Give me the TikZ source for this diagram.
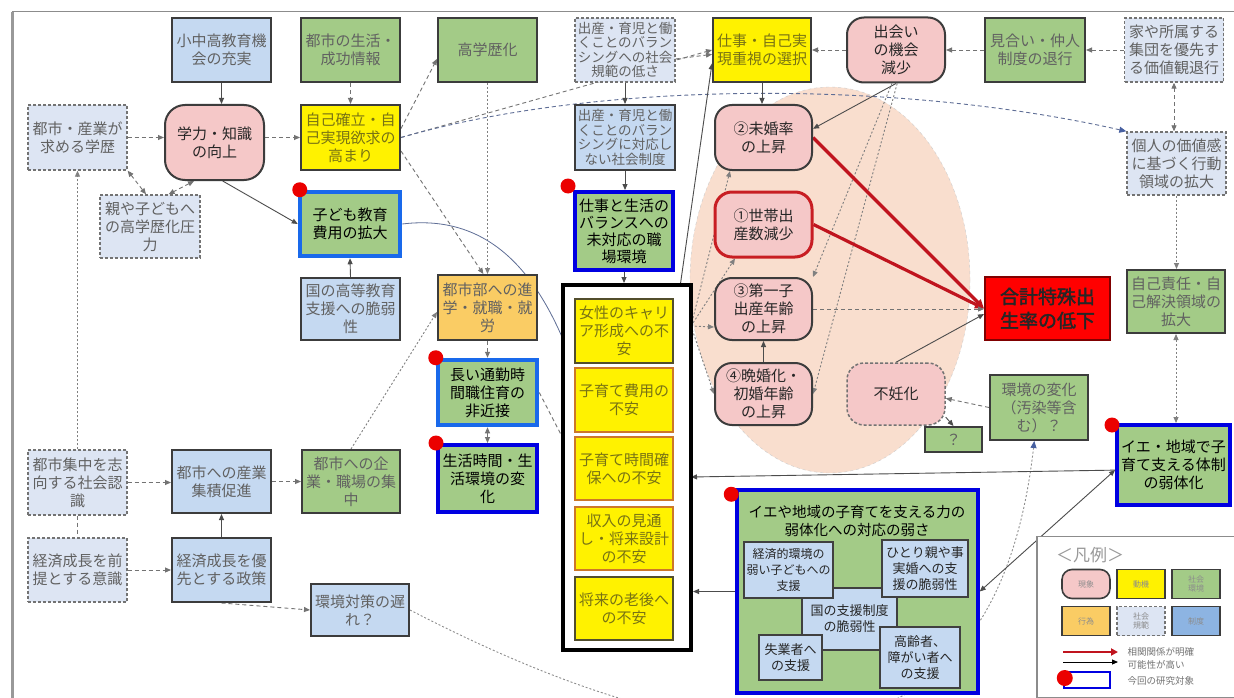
\documentclass[tikz,border=0pt]{standalone}
\usepackage{fontspec}
\usetikzlibrary{arrows.meta,calc}
\newfontfamily\jp{Noto Sans CJK JP}
\newfontfamily\jpbold[FakeBold=2]{Noto Sans CJK JP}
\definecolor{cBlue}{RGB}{197,217,241}
\definecolor{cGreen}{RGB}{163,203,135}
\definecolor{cPink}{RGB}{245,200,200}
\definecolor{cOrange}{RGB}{250,204,100}
\definecolor{cNorm}{RGB}{221,229,243}
\definecolor{cEll}{RGB}{249,222,206}
\definecolor{cRedL}{RGB}{192,20,30}
\definecolor{cRedB}{RGB}{200,30,35}
\definecolor{cTgt}{RGB}{0,0,225}
\definecolor{cTgtL}{RGB}{25,105,235}
\definecolor{cEdge}{RGB}{60,60,60}
\definecolor{cInst}{RGB}{141,180,226}
\definecolor{cOliveT}{RGB}{120,115,20}
\definecolor{cOrgB}{RGB}{205,120,40}
\definecolor{cArrB}{RGB}{70,95,160}
\definecolor{cCurve}{RGB}{95,110,150}
\pgfdeclarelayer{bg}
\pgfsetlayers{bg,main}
\begin{document}
\begin{tikzpicture}[x=1pt,y=-1pt,
  >={Triangle[length=6pt,width=5pt]},
  box/.style={draw=cEdge, line width=2pt, align=center, inner sep=0pt, text=black!62,
    font=\jp\fontsize{15}{18}\selectfont},
  sz/.style 2 args={minimum width=#1pt, minimum height=#2pt},
  blu/.style={box, fill=cBlue},
  grn/.style={box, fill=cGreen},
  yel/.style={box, fill=yellow, text=cOliveT},
  org/.style={box, fill=cOrange},
  pnk/.style={box, fill=cPink, rounded corners=17pt, text=black!85},
  nrm/.style={box, fill=cNorm, draw=black!55, line width=1.4pt, dash pattern=on 3pt off 2pt},
  tgt/.style={draw=cTgt, line width=4pt, text=black},
  tgtl/.style={draw=cTgtL, line width=4.5pt, text=black},
  sevenc/.style={font=\jp\fontsize{13.5}{14.5}\selectfont},
  inb/.style={box, fill=cBlue, draw=black!75, line width=1.8pt, text=black!85,
    font=\jp\fontsize{13}{16}\selectfont},
  lgbox/.style={sz={48}{29}, line width=1.6pt, font=\jp\fontsize{8}{9.5}\selectfont, text=black!45},
  lgtext/.style={anchor=west, font=\jp\fontsize{9.5}{10}\selectfont, text=black!55},
  con/.style={->, line width=0.9pt, draw=black!70},
  dshln/.style={con, draw=black!55, dash pattern=on 4pt off 3pt},
  dotln/.style={con, draw=black!50, dash pattern=on 2pt off 2pt},
  dbl/.style={<->},
  redl/.style={line width=3.2pt, draw=cRedL, -{Triangle[length=9pt,width=8pt]}},
  bluet/.style={-{Triangle[length=7pt,width=6pt,color=cArrB]}},
  rdot/.style={fill=red!92!black},
]
\useasboundingbox (0,0) rectangle (1234,698);
\begin{pgfonlayer}{bg}
\fill[white] (0,0) rectangle (1234,698);
\end{pgfonlayer}
% frame of the sheet
\draw[black!45, line width=1pt] (12,12) -- (1234,12);
\draw[black!40, line width=3pt] (12,12) -- (12,698);

% ---------- top row ----------
\node[blu, sz={99}{64}] (kyouiku) at (221.5,50) {小中高教育機\\会の充実};
\node[grn, sz={99}{64}] (toshiseikatsu) at (350.5,50) {都市の生活・\\成功情報};
\node[grn, sz={99}{64}] (kougakureki) at (487.5,50) {高学歴化};
\node[nrm, sevenc, sz={100}{64}] (kihan) at (625,50) {出産・育児と働\\くことのバラン\\シングへの社会\\規範の低さ};
\node[yel, sz={98}{64}] (shigoto) at (762,50) {仕事・自己実\\現重視の選択};
\node[pnk, sz={98}{65}] (deai) at (896,50) {出会い\\の機会\\減少};
\node[grn, sz={100}{64}] (miai) at (1035,50) {見合い・仲人\\制度の退行};
\node[nrm, sz={99}{64}] (ie) at (1174,50) {家や所属する\\集団を優先す\\る価値観退行};

% ---------- second row ----------
\node[nrm, sz={99}{65}] (toshigakureki) at (77.5,137.5) {都市・産業が\\求める学歴};
\node[pnk, sz={99}{75}, rounded corners=20pt] (gakuryoku) at (214.5,142.5) {学力・知識\\の向上};
\node[yel, sz={99}{65}] (jiko) at (350.5,137.5) {自己確立・自\\己実現欲求の\\高まり};
\node[blu, sevenc, sz={100}{65}] (seido) at (625,137.5) {出産・育児と働\\くことのバラン\\シングに対応し\\ない社会制度};
\node[pnk, sz={97}{65}] (mikon) at (763.5,137.5) {②未婚率\\の上昇};
\node[nrm, sz={99}{63}] (kojin) at (1176.5,163.5) {個人の価値感\\に基づく行動\\領域の拡大};

% ---------- third row ----------
\node[nrm, sz={100}{63}] (oyako) at (150,226.5) {親や子どもへ\\の高学歴化圧\\力};
\node[grn, tgtl, sz={100}{64}] (kyouikuhi) at (350,224) {子ども教育\\費用の拡大};
\node[grn, tgt, sz={98}{78}, font=\jp\fontsize{15}{17}\selectfont] (wlb) at (624,231) {仕事と生活の\\バランスへの\\未対応の職\\場環境};
\node[pnk, draw=cRedB, line width=3pt, sz={97}{65}] (setai) at (763.5,224.5) {①世帯出\\産数減少};

% ---------- middle ----------
\node[blu, sz={99}{62}] (kunikoutou) at (350.5,309) {国の高等教育\\支援への脆弱\\性};
\node[org, sz={99}{65}] (toshibu) at (487.5,307.5) {都市部への進\\学・就職・就\\労};

% anxieties grouped in one frame
\node[draw=black, line width=4pt, fill=white, sz={128}{365}] (blackbox) at (627,467.5) {};
\node[yel, draw=black!55!olive, sz={98}{64}] (josei) at (624,331) {女性のキャリ\\ア形成への不\\安};
\node[yel, draw=cOrgB, sz={98}{64}] (hiyou) at (624,400) {子育て費用の\\不安};
\node[yel, draw=cOrgB, sz={98}{63}] (jikan) at (624,468.5) {子育て時間確\\保への不安};
\node[yel, draw=cOrgB, sz={98}{63}] (shuunyuu) at (624,538.5) {収入の見通\\し・将来設計\\の不安};
\node[yel, draw=black!55!olive, sz={98}{63}] (rougo) at (624,608.5) {将来の老後へ\\の不安};

\node[pnk, sz={97}{62}] (daiichi) at (763.5,309) {③第一子\\出産年齢\\の上昇};
\node[pnk, sz={97}{62}] (bankon) at (763.5,394) {④晩婚化・\\初婚年齢\\の上昇};
\node[box, fill=red, draw=black!50!red, line width=2pt, sz={125}{63}, text=black!85,
      font=\jpbold\fontsize{19}{24}\selectfont] (goukei) at (1047.5,308.5) {合計特殊出\\生率の低下};
\node[grn, sz={98}{63}] (jikosekinin) at (1176,301.5) {自己責任・自\\己解決領域の\\拡大};
\node[pnk, draw=black!55, line width=1.5pt, dash pattern=on 3pt off 2pt, sz={98}{62}] (funin) at (896,394) {不妊化};
\node[grn, sz={98}{65}] (kankyou) at (1039,407.5) {環境の変化\\（汚染等含\\む）？};
\node[grn, sz={57}{25}] (question) at (953.5,439.5) {？};
\node[grn, tgt, sz={113}{80}] (iechiiki) at (1173.5,465) {イエ・地域で子\\育て支える体制\\の弱体化};

% ---------- lower left ----------
\node[grn, tgtl, sz={99}{65}] (tsuukin) at (487.5,392.5) {長い通勤時\\間職住育の\\非近接};
\node[grn, tgt, sz={99}{67}] (seikatsujikan) at (487.5,478.5) {生活時間・生\\活環境の変\\化};
\node[nrm, sz={99}{65}] (toshishuuchuu) at (77.5,482.5) {都市集中を志\\向する社会認\\識};
\node[blu, sz={99}{63}] (sangyou) at (221.5,481.5) {都市への産業\\集積促進};
\node[grn, sz={98}{63}] (kigyou) at (351,481.5) {都市への企\\業・職場の集\\中};
\node[nrm, sz={99}{64}] (keizaizentei) at (77.5,570) {経済成長を前\\提とする意識};
\node[blu, sz={99}{64}] (keizaiyuusen) at (221.5,570) {経済成長を優\\先とする政策};
\node[blu, sz={98}{52}] (kankyoutaisaku) at (360,610) {環境対策の遅\\れ？};

% ---------- support systems ----------
\node[fill=cGreen, draw=cTgt, line width=3.5pt, sz={241}{203}] (support) at (857.5,591.5) {};
\node[align=center, text=black, font=\jp\fontsize{14.5}{18}\selectfont] (suptitle) at (857,521) {イエや地域の子育てを支える力の\\弱体化への対応の弱さ};
\node[inb, sz={95}{62}] (kuni) at (849.5,619) {国の支援制度\\の脆弱性};
\node[inb, sz={89}{56}, font=\jp\fontsize{12}{16}\selectfont] (keizaiteki) at (788.5,570) {経済的環境の\\弱い子どもへの\\支援};
\node[inb, sz={86}{57}] (hitorioya) at (925,568.5) {ひとり親や事\\実婚への支\\援の脆弱性};
\node[inb, sz={63}{45}] (shitsugyou) at (790.5,657.5) {失業者へ\\の支援};
\node[inb, sz={80}{61}] (koureisha) at (920,657.5) {高齢者、\\障がい者へ\\の支援};

% ---------- legend ----------
\node[draw=black!45, line width=1.5pt, fill=white, sz={199}{161}] (legend) at (1136.5,617) {};
\node[text=black!40, font=\jp\fontsize{17}{17}\selectfont] (lgtitle) at (1090,555) {＜凡例＞};
\node[pnk, lgbox, rounded corners=10pt] (lg1) at (1086,584) {現象};
\node[yel, lgbox, text=black!45] (lg2) at (1141,584) {動機};
\node[grn, lgbox] (lg3) at (1196,584) {社会\\環境};
\node[org, lgbox] (lg4) at (1086,621) {行為};
\node[nrm, lgbox] (lg5) at (1141,621) {社会\\規範};
\node[blu, lgbox, fill=cInst] (lg6) at (1196,621) {制度};
\coordinate (la1) at (1063,652); \coordinate (la2) at (1118,652);
\draw[redl, line width=2.5pt, -{Triangle[length=7pt,width=7pt]}] (la1) -- (la2);
\node[lgtext] (lt1) at (1124,652) {相関関係が明確};
\coordinate (lb1) at (1063,662); \coordinate (lb2) at (1118,662);
\draw[con, draw=black] (lb1) -- (lb2);
\node[lgtext] (lt2) at (1124,665) {可能性が高い};
\node[draw=cTgt, line width=2.5pt, fill=white, sz={46}{16}] (lgtgt) at (1087,680) {};
\node[lgtext] (lt3) at (1124,681) {今回の研究対象};

% ---------- research-target markers ----------
\fill[rdot] ($(kyouikuhi.north west)+(2,0)$) circle[radius=7.5pt];
\fill[rdot] ($(wlb.north west)+(-5,-4)$) circle[radius=7.5pt];
\fill[rdot] (tsuukin.north west) circle[radius=7.5pt];
\fill[rdot] (seikatsujikan.north west) circle[radius=7.5pt];
\fill[rdot] ($(iechiiki.north west)+(-3,2)$) circle[radius=7.5pt];
\fill[rdot] ($(support.north west)+(-4,6)$) circle[radius=7.5pt];
\fill[rdot] ($(lgtgt.west)+(2,-2)$) circle[radius=8pt];

% ---------- connectors (behind the boxes) ----------
\begin{pgfonlayer}{bg}
\draw[fill=cEll, draw=black!20, dash pattern=on 3pt off 3pt] (830,280) ellipse [x radius=140pt, y radius=193pt];

% education and urban factors
\draw[con] (kyouiku.south) -- (kyouiku.south |- gakuryoku.north);
\draw[dshln] (toshiseikatsu.south) -- (jiko.north);
\draw[dshln] (toshigakureki.east) -- (toshigakureki.east -| gakuryoku.west);
\draw[dshln] (gakuryoku.east |- jiko.west) -- (jiko.west);
\draw[con] (gakuryoku.-78) -- (kyouikuhi.west);
\draw[dshln, dbl] (toshigakureki.south east) -- ($(oyako.north)+(-4,0)$);
\draw[dshln, dbl] (gakuryoku.-118) -- (oyako.60);
\draw[dotln] (toshishuuchuu.north) -- (toshigakureki.south);
\draw[dshln, -] (toshishuuchuu.south) -- (keizaizentei.north);
\draw[dshln] (toshishuuchuu.east) -- (toshishuuchuu.east -| sangyou.west);
\draw[dshln] (sangyou.east) -- (sangyou.east -| kigyou.west);
\draw[dshln] (keizaizentei.east) -- (keizaiyuusen.west);
\draw[con] (keizaiyuusen.north) -- (sangyou.south);
\draw[dshln] (keizaiyuusen.south) -- (kankyoutaisaku.west);
\draw[dotln, draw=black!45, bluet] (kankyoutaisaku.east) .. controls (700,760) and (992,815) .. (kankyou.-98);
\draw[dshln] (jiko.10) -- (kougakureki.-170);
\draw[dshln] (jiko.east) -- (shigoto.west);
\draw[dshln, draw=cCurve, bluet] (jiko.east) .. controls (600,80) and (900,80) .. (kojin.north west);
\draw[dshln] (jiko.-15) -- (toshibu.97);
\draw[dotln] (kougakureki.south) -- (toshibu.north);
\draw[con] (kunikoutou.north) -- (kyouikuhi.south);
\draw[dotln] (kigyou.north) -- (toshibu.-175);
\draw[dshln] (toshibu.south) -- (tsuukin.north);
\draw[dshln, dbl] (tsuukin.south) -- (seikatsujikan.north);
\draw[dshln] (tsuukin.east) -- (jikan.170);
\draw[con, draw=cCurve, line width=0.8pt, bluet] (kyouikuhi.east) .. controls (500,212) and (545,290) .. (hiyou.north west);

% work-life balance chain
\draw[con] (kihan.south) -- (seido.north);
\draw[con] (seido.south) -- (seido.south |- wlb.north);
\draw[con] (wlb.south) -- (wlb.south |- blackbox.north);
\draw[dshln] (kihan.-10) -- (shigoto.-175);
\draw[con] (shigoto.south) -- (shigoto.south |- mikon.north);
\coordinate (bxn) at (680,287);
\draw[con] (bxn) -- (shigoto.-165);

% marriage and values
\draw[dshln] (deai.west) -- (deai.west -| shigoto.east);
\draw[dshln] (miai.west) -- (deai.east);
\draw[dshln] (ie.west) -- (miai.east);
\draw[dshln, dbl] (ie.south) -- (ie.south |- kojin.north);
\draw[dotln] (kojin.south) -- (kojin.south |- jikosekinin.north);
\draw[dotln, dbl] (jikosekinin.south) -- (jikosekinin.south |- iechiiki.north);
\draw[con] (deai.south) -- (mikon.10);
\draw[dotln] (deai.-97) -- (daiichi.north east);
\draw[dotln] (deai.-88) -- (bankon.east);

% anxieties towards the birth-related outcomes
\coordinate (bxe) at (691,326);
\draw[dotln] (bxe) -- (mikon.-135);
\draw[dotln] (bxe) -- (setai.-130);
\draw[dotln] (bxe) -- (daiichi.-160);
\draw[dotln] (bxe) -- (bankon.west);
\draw[con] (bankon.north) -- (daiichi.south);

% fertility rate
\draw[redl] (mikon.east) -- (goukei.west);
\draw[redl] (setai.east) -- (goukei.west);
\draw[dshln] (daiichi.east) -- (daiichi.east -| goukei.west);
\draw[con] (funin.north) -- (goukei.-175);
\draw[dshln] (kankyou.west) -- (funin.-5);
\draw[con] (funin.-25) -- (question.north);

% community support
\coordinate (bxr) at (691,477);
\draw[con] (iechiiki.-175) -- (bxr);
\draw[con, dbl] (support.east) -- (iechiiki.-175);
\draw[con] (support.west) -- (support.west -| blackbox.east);
\end{pgfonlayer}
\end{tikzpicture}
\end{document}
